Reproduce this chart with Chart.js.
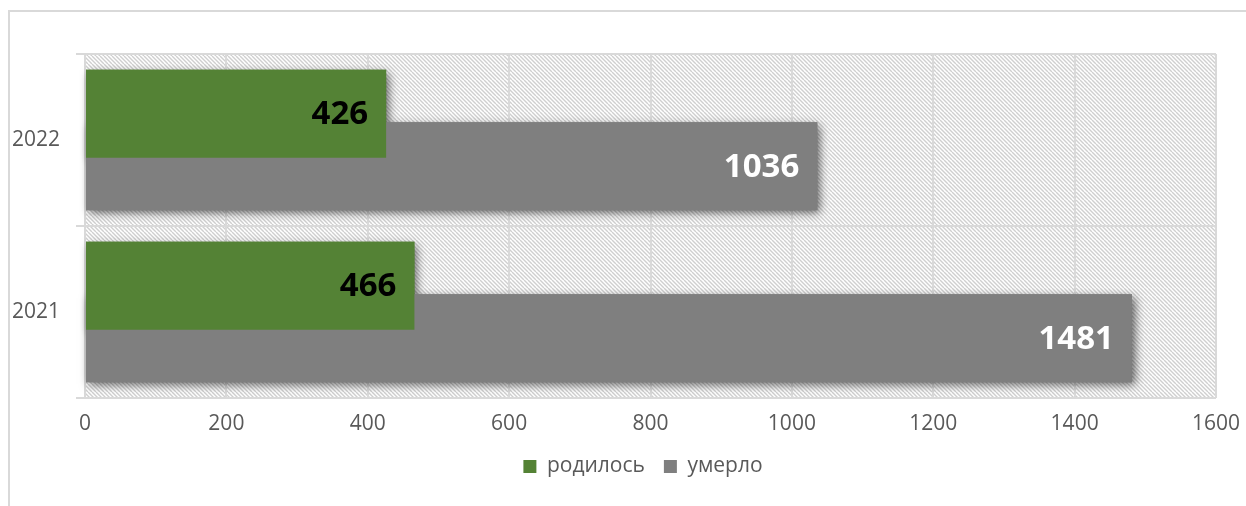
<!DOCTYPE html>
<html>
<head>
<meta charset="utf-8">
<script src="https://cdn.jsdelivr.net/npm/chart.js@4"></script>
<style>
  html, body { margin: 0; padding: 0; background: #fff; overflow: hidden; }
  #frame { position: absolute; left: 8px; top: 10px; width: 1400px; height: 600px;
           border-left: 2px solid #d9d9d9; border-top: 2px solid #d9d9d9; }
  #chart { position: absolute; left: 0; top: 0; }
</style>
</head>
<body>
<div id="frame"></div>
<canvas id="chart" width="1246" height="506"></canvas>
<script>
// ==================== DATA ====================
const years = ['2022', '2021'];
const born = [426, 466];      // родилось
const died = [1036, 1481];    // умерло
const xTicks = [0, 200, 400, 600, 800, 1000, 1200, 1400, 1600];

const GREEN = '#548235';
const GREY = '#7f7f7f';
const GRID = '#d9d9d9';
const TEXT = '#595959';

Chart.defaults.font.family = "'Open Sans', sans-serif";
Chart.defaults.color = TEXT;

// hatched plot background
function makeHatch() {
    const c = document.createElement('canvas');
    c.width = 8; c.height = 8;
    const g = c.getContext('2d');
    g.fillStyle = '#fff';
    g.fillRect(0, 0, 8, 8);
    g.strokeStyle = '#cfcfcf';
    g.lineWidth = 1.4;
    for (let o = -8; o <= 8; o += 4) {
        g.beginPath();
        g.moveTo(o, 0);
        g.lineTo(o + 8, 8);
        g.stroke();
    }
    return g.createPattern(c, 'repeat');
}

const hatchPlugin = {
    id: 'hatch',
    beforeDraw(chart) {
        const { ctx, chartArea: a } = chart;
        ctx.save();
        ctx.fillStyle = makeHatch();
        ctx.fillRect(a.left, a.top, a.right - a.left, a.bottom - a.top);
        ctx.restore();
    }
};

// legend sits a bit right of the canvas centre in the original
const legendShift = {
    id: 'legendShift',
    afterLayout(chart) {
        if (chart.legend) {
            chart.legend.left += 20;
            chart.legend.right += 20;
        }
    }
};

// soft shadow under the bars (drawn first, then covered by the bars)
const shadowPlugin = {
    id: 'barShadow',
    beforeDatasetsDraw(chart) {
        const ctx = chart.ctx;
        ctx.save();
        ctx.shadowColor = 'rgba(0,0,0,0.6)';
        ctx.shadowBlur = 9;
        ctx.shadowOffsetX = 3;
        ctx.shadowOffsetY = 3;
        chart.getSortedVisibleDatasetMetas().forEach(meta => {
            meta.data.forEach(bar => bar.draw(ctx));
        });
        ctx.restore();
    }
};

const labelColors = ['#000000', '#ffffff'];
const valueLabels = {
    id: 'valueLabels',
    afterDatasetsDraw(chart) {
        const ctx = chart.ctx;
        ctx.save();
        ctx.font = "bold 33px 'Open Sans', sans-serif";
        ctx.textAlign = 'right';
        ctx.textBaseline = 'middle';
        chart.data.datasets.forEach((ds, i) => {
            const meta = chart.getDatasetMeta(i);
            ctx.fillStyle = labelColors[i];
            meta.data.forEach((bar, j) => {
                ctx.fillText(String(ds.data[j]), bar.x - 18, bar.y + 1);
            });
        });
        ctx.restore();
    }
};

new Chart(document.getElementById('chart'), {
    type: 'bar',
    data: {
        labels: years,
        datasets: [
            { label: 'родилось', data: born, backgroundColor: GREEN },
            { label: 'умерло', data: died, backgroundColor: GREY }
        ]
    },
    options: {
        indexAxis: 'y',
        responsive: false,
        animation: false,
        categoryPercentage: 0.61,
        barPercentage: 1.676,
        layout: { padding: { top: 54, right: 0, bottom: 19, left: 0 } },
        scales: {
            x: {
                min: 0,
                max: 1600,
                afterBuildTicks(scale) { scale.ticks = xTicks.map(v => ({ value: v })); },
                afterFit(scale) {
                    scale.height = 39;
                    scale.paddingLeft = 0;
                    scale.paddingRight = 30;
                },
                grid: { color: GRID, lineWidth: 2, drawTicks: false },
                border: { display: false },
                ticks: { padding: 13, font: { size: 21 }, color: TEXT, callback: v => String(v) }
            },
            y: {
                afterFit(scale) { scale.width = 85; },
                grid: { color: GRID, lineWidth: 2, drawTicks: true, tickLength: 9, offset: true },
                border: { display: false },
                ticks: { padding: 16, font: { size: 21 }, color: TEXT }
            }
        },
        plugins: {
            legend: {
                position: 'bottom',
                labels: { boxWidth: 13, boxHeight: 13, padding: 19, font: { size: 21 }, color: TEXT }
            },
            tooltip: { enabled: false }
        }
    },
    plugins: [hatchPlugin, legendShift, shadowPlugin, valueLabels]
});
</script>
</body>
</html>
